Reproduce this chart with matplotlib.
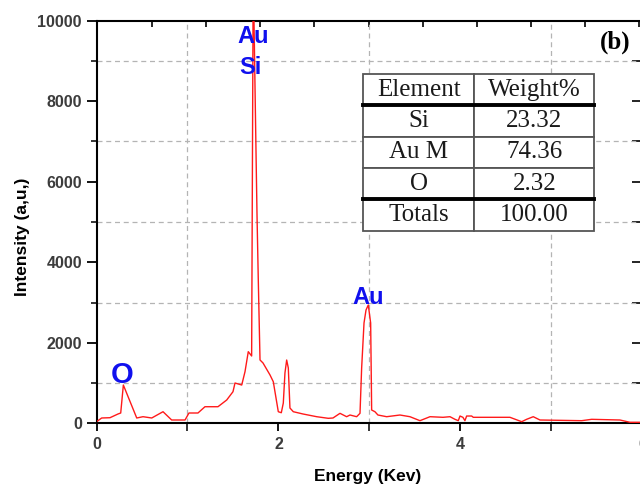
import matplotlib
matplotlib.use("Agg")
import matplotlib.pyplot as plt
import numpy as np

RED = "#ff1a1a"; BLUE = "#1010ee"; INK = "#3c3c3c"; GRID = "#b4b4b4"

# EDS spectrum (energy in keV, counts)
energy = [0.0, 0.057, 0.148, 0.236, 0.266, 0.295, 0.442, 0.511, 0.607, 0.731,
          0.826, 0.973, 1.016, 1.115, 1.192, 1.335, 1.431, 1.50, 1.522, 1.596,
          1.632, 1.668, 1.705, 1.72, 1.731, 1.742, 1.753, 1.764, 1.778, 1.797,
          1.830, 1.907, 1.943, 1.998, 2.031, 2.053, 2.071, 2.09, 2.108, 2.126,
          2.163, 2.27, 2.42, 2.547, 2.599, 2.676, 2.749, 2.786, 2.859, 2.896,
          2.914, 2.94, 2.962, 2.987, 3.013, 3.024, 3.060, 3.093, 3.189, 3.335,
          3.445, 3.555, 3.665, 3.808, 3.885, 3.94, 3.976, 3.995, 4.027, 4.049,
          4.068, 4.123, 4.141, 4.544, 4.673, 4.727, 4.80, 4.874, 5.332, 5.442,
          5.753, 5.863, 5.973]
counts = [40, 132, 139, 231, 256, 951, 132, 164, 132, 288,
          82, 82, 256, 256, 412, 412, 579, 785, 1001, 951,
          1282, 1779, 1672, 9990, 9990, 8354, 6740, 5175, 3560, 1573,
          1498, 1200, 1033, 288, 263, 504, 1249, 1572, 1374, 380,
          288, 231, 164, 124, 132, 248, 164, 206, 164, 248,
          1374, 2491, 2814, 2939, 2491, 330, 288, 206, 164, 206,
          164, 65, 164, 149, 164, 99, 65, 181, 149, 65,
          181, 181, 149, 149, 40, 99, 164, 82, 65, 99,
          82, 25, 25]

# peak labels: text, energy, counts, size
peak_text = ["Au", "Si", "Au", "O"]
peak_x = [1.72, 1.687, 2.984, 0.286]
peak_y = [9596, 8826, 3137, 1200]
peak_size = [17, 17, 17, 21]

# composition table
table_rows = [["Element", "Weight%"],
              ["Si", "23.32"],
              ["Au M", "74.36"],
              ["O", "2.32"],
              ["Totals", "100.00"]]

fig = plt.figure(figsize=(6.4, 4.86), dpi=100)
ax = fig.add_axes([0.1508, 0.129, 0.853, 0.8284])

ax.plot(energy, counts, color=RED, lw=1.0, zorder=3)
ax.set_xlim(0, 6)
ax.set_ylim(0, 10000)

ax.set_xticks([0, 2, 4, 6])
ax.set_xticks([1, 3, 5], minor=True)
ax.set_yticks(np.arange(0, 10001, 2000))
ax.set_yticks(np.arange(1000, 10000, 2000), minor=True)
ax.grid(which="minor", color=GRID, ls=(0, (4, 3)), lw=0.9)
ax.grid(which="major", visible=False)

for s in ["left", "bottom", "top"]:
    ax.spines[s].set_linewidth(1.5)
    ax.spines[s].set_color("black")
ax.spines["right"].set_linewidth(1.0)

ax.tick_params(axis="both", which="major", direction="out", length=7, width=1.3,
               colors="black", labelcolor=INK)
ax.tick_params(axis="both", which="minor", direction="out", length=4, width=1.1,
               colors="black")
ax.tick_params(axis="x", which="both", length=6)
for lab in ax.get_xticklabels() + ax.get_yticklabels():
    lab.set_fontfamily("Liberation Sans")
    lab.set_fontweight("bold")
    lab.set_fontsize(11.5)

# top ticks (inward, own spacing) and right ticks (inward)
top = ax.secondary_xaxis("top")
top.set_xticks(np.linspace(0.613, 5.96, 10))
top.tick_params(direction="in", length=4, width=1.2, labeltop=False)
top.spines["top"].set_visible(False)
right = ax.secondary_yaxis("right")
right.set_yticks(np.arange(1000, 10000, 1000))
right.tick_params(direction="in", length=7, width=1.2, labelright=False)

ax.set_xlabel("Energy (Kev)", fontfamily="Liberation Sans", fontweight="bold",
              fontsize=12.5, color="black")
ax.set_ylabel("Intensity (a,u,)", fontfamily="Liberation Sans", fontweight="bold",
              fontsize=12.5, color="black")
ax.xaxis.set_label_coords(0.497, -0.113)
ax.yaxis.set_label_coords(-0.122, 0.463)

for t, x, y, fs in zip(peak_text, peak_x, peak_y, peak_size):
    ax.text(x, y, t, color=BLUE, fontsize=fs, fontweight="bold",
            fontfamily="Liberation Sans", ha="center", va="center", zorder=4)

ax.text(0.951, 0.947, "(b)", transform=ax.transAxes, fontsize=18,
        fontweight="bold", fontfamily="Liberation Serif", ha="center",
        va="center", color="black")

tb = ax.table(cellText=table_rows, cellLoc="center",
              bbox=[0.489, 0.478, 0.423, 0.39], zorder=5)
tb.auto_set_font_size(False)
for (r, c), cell in tb.get_celld().items():
    cell.set_edgecolor("#555555")
    cell.set_linewidth(1.3)
    cell.set_facecolor("white")
    cell.get_text().set_fontfamily("Liberation Serif")
    cell.get_text().set_fontsize(18)
    cell.get_text().set_color("#1a1a1a")
    cell.set_width(0.692 - 0.489 if c == 0 else 0.912 - 0.692)
# thick separators under the header and above the totals
for yy in [0.478 + 0.39 * 4 / 5, 0.478 + 0.39 / 5]:
    ax.plot([0.489, 0.912], [yy, yy], transform=ax.transAxes, color="black",
            lw=2.8, zorder=6, clip_on=False)

fig.savefig("out.png", dpi=100)
